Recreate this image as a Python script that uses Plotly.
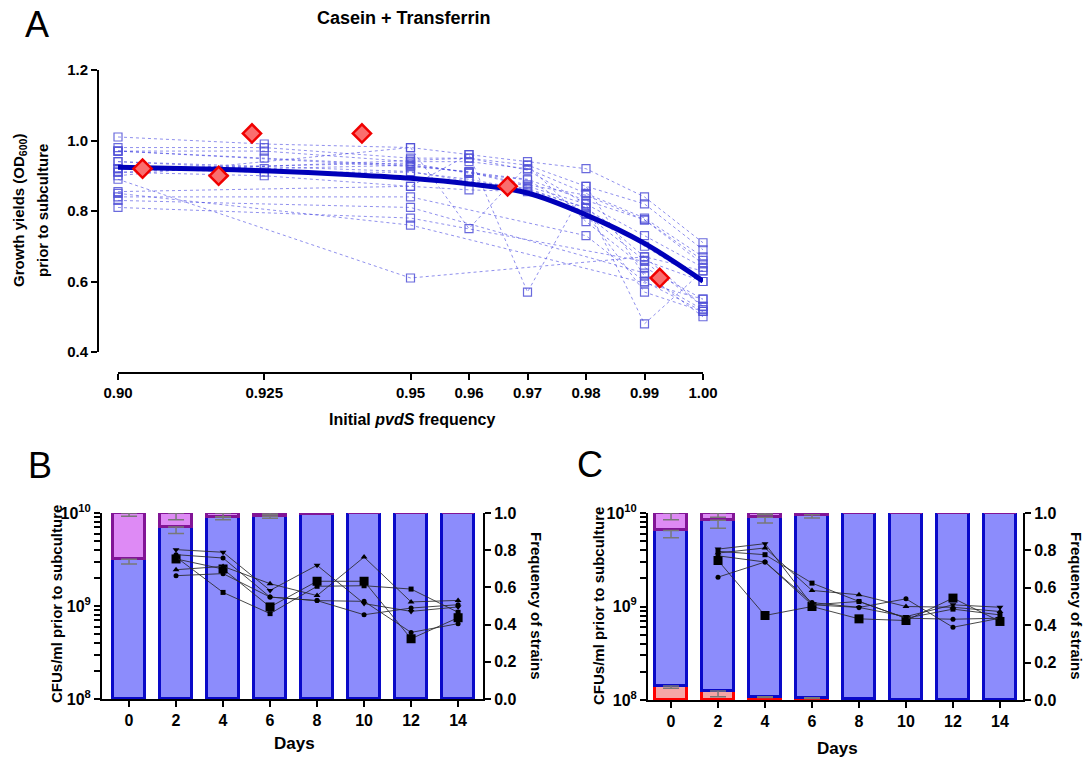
import plotly.graph_objects as go

W, H = 1086, 758
def fx(px): return px / W
def fy(py): return 1 - py / H

FONT = "Liberation Sans, Arial, sans-serif"

# ---------------- Panel A data ----------------
freq_ticks = [0.90, 0.925, 0.95, 0.96, 0.97, 0.98, 0.99, 1.00]
freq_tick_labels = ["0.90", "0.925", "0.95", "0.96", "0.97", "0.98", "0.99", "1.00"]
od_ticks = [0.4, 0.6, 0.8, 1.0, 1.2]

# each replicate: yield at the initial frequencies above (None = not sampled)
replicate_yields = [
    [1.01, 0.99, 0.98, 0.96, 0.94, 0.92, 0.84, 0.71],
    [0.98, 0.98, 0.95, 0.95, 0.93, 0.87, 0.82, 0.69],
    [0.97, 0.97, 0.94, 0.94, 0.92, 0.85, 0.78, 0.67],
    [0.97, 0.95, 0.93, 0.91, 0.89, 0.83, 0.775, 0.65],
    [0.94, 0.92, 0.93, 0.91, 0.87, 0.82, 0.73, 0.64],
    [0.92, 0.91, 0.91, 0.89, 0.86, 0.81, 0.67, 0.63],
    [0.91, 0.90, 0.87, 0.86, 0.855, 0.79, 0.66, 0.60],
    [0.90, None, 0.98, 0.75, 0.93, 0.77, 0.64, 0.55],
    [0.89, None, 0.61, None, None, None, 0.67, 0.53],
    [0.855, None, 0.87, 0.96, 0.57, 0.87, 0.615, 0.52],
    [0.84, None, 0.84, None, None, 0.73, 0.60, 0.515],
    [0.83, None, 0.81, None, None, None, 0.624, 0.50],
    [0.81, None, 0.78, None, None, None, 0.657, 0.529],
    [0.85, None, 0.76, None, None, None, 0.596, 0.55],
    [0.91, None, 0.945, 0.95, 0.916, 0.82, 0.48, 0.63],
    [0.97, None, 0.926, 0.912, 0.874, 0.845, 0.775, 0.66],
    [0.94, None, 0.912, 0.884, 0.864, 0.808, 0.70, 0.60],
    [0.92, None, 0.936, 0.907, 0.888, 0.793, 0.57, 0.515],
]

fit_x = [0.90, 0.915, 0.925, 0.94, 0.95, 0.96, 0.97, 0.98, 0.99, 1.00]
fit_y = [0.924, 0.919, 0.914, 0.903, 0.893, 0.877, 0.851, 0.789, 0.708, 0.601]

mean_x = [0.9042, 0.9172, 0.9229, 0.9417, 0.9666, 0.9926]
mean_y = [0.92, 0.90, 1.02, 1.02, 0.87, 0.61]

# ---------------- Panel B data ----------------
days = [0, 2, 4, 6, 8, 10, 12, 14]
b_blue = [0.751, 0.925, 0.978, 0.982, 0.997, 1.0, 1.0, 1.0]
b_blue_err = [0.025, 0.035, 0.014, 0.01, 0.0, 0.0, 0.0, 0.0]
b_pink_err = [0.018, 0.036, 0.02, 0.01, 0.0, 0.0, 0.0, 0.0]

line_days = [2, 4, 6, 8, 10, 12, 14]
b_lines = [
    ("square", 9, [0.753, 0.699, 0.495, 0.633, 0.633, 0.324, 0.437]),
    ("triangle-down", 6, [0.803, 0.789, 0.584, 0.719, 0.513, 0.471, 0.495]),
    ("circle", 5, [0.776, 0.758, 0.548, 0.529, 0.525, 0.358, 0.405]),
    ("square", 5, [0.763, 0.573, 0.459, 0.606, 0.609, 0.591, 0.466]),
    ("triangle-up", 6, [0.695, 0.713, 0.620, 0.556, 0.763, 0.522, 0.530]),
    ("circle", 5, [0.663, 0.674, 0.548, 0.529, 0.453, 0.489, 0.507]),
]

# ---------------- Panel C data ----------------
c_red = [0.075, 0.048, 0.018, 0.0125, 0.004, 0.0, 0.0, 0.0]
c_blue = [0.832, 0.913, 0.959, 0.9785, 0.996, 1.0, 1.0, 1.0]
c_red_err = [0.012, 0.03, 0.004, 0.004, 0.0, 0.0, 0.0, 0.0]
c_blue_err = [0.04, 0.043, 0.03, 0.018, 0.0, 0.0, 0.0, 0.0]
c_pink_err = [0.036, 0.023, 0.01, 0.0, 0.0, 0.0, 0.0, 0.0]

c_lines = [
    ("square", 9, [0.746, 0.452, 0.500, 0.434, 0.425, 0.545, 0.420]),
    ("triangle-down", 6, [0.807, 0.836, 0.509, 0.495, 0.446, 0.509, 0.496]),
    ("square", 5, [0.795, 0.777, 0.625, 0.527, 0.4375, 0.486, 0.455]),
    ("triangle-up", 6, [0.786, 0.813, 0.586, 0.5625, 0.500, 0.496, 0.473]),
    ("circle", 5, [0.771, 0.738, 0.521, 0.495, 0.541, 0.389, 0.4375]),
    ("circle", 5, [0.657, 0.738, 0.509, 0.527, 0.4375, 0.432, 0.4375]),
]

log_tickvals = [1e8, 1e9, 1e10]
log_ticktext = ["10<sup>8</sup>", "10<sup>9</sup>", "10<sup>10</sup>"]
log_minor = [m * 10 ** e for e in (8, 9) for m in range(2, 10)]
freq_axis_ticks = [0.0, 0.2, 0.4, 0.6, 0.8, 1.0]

BLUE_FILL = "rgb(140,140,252)"
BLUE_LINE = "rgb(10,10,200)"
PINK_FILL = "rgb(222,138,245)"
PINK_LINE = "rgb(130,20,150)"
RED_FILL = "rgb(246,165,165)"
RED_LINE = "rgb(255,0,0)"
ERR_COL = "rgb(120,120,120)"

fig = go.Figure()

# ---- Panel A traces ----
for reps in replicate_yields:
    fig.add_trace(go.Scatter(
        x=freq_ticks, y=reps, mode="lines+markers", connectgaps=True,
        line=dict(color="rgba(70,70,225,0.6)", width=1, dash="dot"),
        marker=dict(symbol="square-open", size=8, color="rgba(80,80,215,0.85)",
                    line=dict(width=1.2)),
        cliponaxis=False, showlegend=False, xaxis="x", yaxis="y"))

fig.add_trace(go.Scatter(
    x=fit_x, y=fit_y, mode="lines", line=dict(color="rgb(0,0,185)", width=5, shape="spline"),
    cliponaxis=False, showlegend=False, xaxis="x", yaxis="y"))

fig.add_trace(go.Scatter(
    x=mean_x, y=mean_y, mode="markers",
    marker=dict(symbol="diamond", size=14, color="rgb(250,110,110)",
                line=dict(color="rgb(240,0,0)", width=2.5)),
    cliponaxis=False, showlegend=False, xaxis="x", yaxis="y"))

# ---- helper for B and C ----
def add_err(xax, yax, tops, errs):
    xs = [d for d, e in zip(days, errs) if e > 0]
    ys = [t for t, e in zip(tops, errs) if e > 0]
    es = [e for e in errs if e > 0]
    fig.add_trace(go.Scatter(
        x=xs, y=ys, mode="markers", marker=dict(size=1, color="rgba(0,0,0,0)"),
        error_y=dict(type="data", symmetric=False, array=[0] * len(es), arrayminus=es,
                     color=ERR_COL, thickness=1.5, width=8),
        cliponaxis=False, showlegend=False, xaxis=xax, yaxis=yax, hoverinfo="skip"))

def add_lines(xax, yax, series):
    for sym, size, vals in series:
        fig.add_trace(go.Scatter(
            x=line_days, y=vals, mode="lines+markers",
            line=dict(color="rgba(40,40,40,0.85)", width=1),
            marker=dict(symbol=sym, size=size, color="black"),
            showlegend=False, xaxis=xax, yaxis=yax))

# ---- Panel B ----
fig.add_trace(go.Scatter(x=[None], y=[None], xaxis="x2", yaxis="y2", showlegend=False))
b_pink = [1 - b for b in b_blue]
fig.add_trace(go.Bar(x=days, y=b_blue, width=1.36, marker=dict(color=BLUE_FILL, line=dict(color=BLUE_LINE, width=3)),
                     showlegend=False, xaxis="x2", yaxis="y3"))
fig.add_trace(go.Bar(x=days, y=b_pink, width=1.36, marker=dict(color=PINK_FILL, line=dict(color=PINK_LINE, width=3)),
                     showlegend=False, xaxis="x2", yaxis="y3"))
add_err("x2", "y3", b_blue, b_blue_err)
add_err("x2", "y3", [1.0] * len(days), b_pink_err)
add_lines("x2", "y3", b_lines)

# ---- Panel C ----
fig.add_trace(go.Scatter(x=[None], y=[None], xaxis="x3", yaxis="y4", showlegend=False))
c_pink = [max(0.0, 1 - r - b) for r, b in zip(c_red, c_blue)]
fig.add_trace(go.Bar(x=days, y=c_red, width=1.4, marker=dict(color=RED_FILL, line=dict(color=RED_LINE, width=3)),
                     showlegend=False, xaxis="x3", yaxis="y5"))
fig.add_trace(go.Bar(x=days, y=c_blue, width=1.4, marker=dict(color=BLUE_FILL, line=dict(color=BLUE_LINE, width=3)),
                     showlegend=False, xaxis="x3", yaxis="y5"))
fig.add_trace(go.Bar(x=days, y=c_pink, width=1.4, marker=dict(color=PINK_FILL, line=dict(color=PINK_LINE, width=3)),
                     showlegend=False, xaxis="x3", yaxis="y5"))
c_blue_top = [r + b for r, b in zip(c_red, c_blue)]
add_err("x3", "y5", c_red, c_red_err)
add_err("x3", "y5", c_blue_top, c_blue_err)
add_err("x3", "y5", [1.0] * len(days), c_pink_err)
add_lines("x3", "y5", c_lines)

def tf(size):
    return dict(family=FONT, size=size, color="black", weight="bold")

axis_common = dict(showline=True, linecolor="black", linewidth=2, ticks="outside",
                   ticklen=6, tickwidth=2, tickcolor="black", showgrid=False, zeroline=False,
                   automargin=False)

log_all_vals = log_tickvals + log_minor
log_all_text = log_ticktext + [""] * len(log_minor)

fig.update_layout(
    width=W, height=H, margin=dict(l=0, r=0, t=0, b=0, pad=0, autoexpand=False),
    paper_bgcolor="white", plot_bgcolor="rgba(0,0,0,0)",
    barmode="stack", bargap=0, showlegend=False,
    font=dict(family=FONT, color="black"),
    xaxis=dict(domain=[fx(118), fx(703)], range=[0.90, 1.00], anchor="free", position=fy(373),
               tickvals=freq_ticks, ticktext=freq_tick_labels, tickfont=tf(15), **axis_common),
    yaxis=dict(domain=[fy(352), fy(70)], range=[0.4, 1.2], anchor="free", position=fx(98),
               tickvals=od_ticks, tickformat=".1f", tickfont=tf(15), **axis_common),
    xaxis2=dict(domain=[fx(102), fx(483)], range=[-1.15, 15.06], anchor="y2",
                tickvals=days, tickfont=tf(16), **axis_common),
    yaxis2=dict(domain=[fy(699), fy(513)], type="log", range=[8, 10], anchor="x2", side="left",
                tickvals=log_all_vals, ticktext=log_all_text, tickfont=tf(16), **axis_common),
    yaxis3=dict(overlaying="y2", range=[0, 1], anchor="x2", side="right",
                tickvals=freq_axis_ticks, tickformat=".1f", tickfont=tf(16), **axis_common),
    xaxis3=dict(domain=[fx(648), fx(1023)], range=[-0.98, 14.98], anchor="y4",
                tickvals=days, tickfont=tf(16), **axis_common),
    yaxis4=dict(domain=[fy(700), fy(513)], type="log", range=[8, 10], anchor="x3", side="left",
                tickvals=log_all_vals, ticktext=log_all_text, tickfont=tf(16), **axis_common),
    yaxis5=dict(overlaying="y4", range=[0, 1], anchor="x3", side="right",
                tickvals=freq_axis_ticks, tickformat=".1f", tickfont=tf(16), **axis_common),
)

def ann(text, x, y, size, angle=0, bold=True):
    fig.add_annotation(text=text, x=fx(x), y=fy(y), xref="paper", yref="paper",
                       showarrow=False, textangle=angle, xanchor="center", yanchor="middle",
                       font=dict(family=FONT, size=size, color="black", weight="bold" if bold else "normal"))

ann("A", 37, 25, 36, bold=False)
ann("B", 40, 465, 36, bold=False)
ann("C", 590, 464, 36, bold=False)
ann("Casein + Transferrin", 404, 18, 18)
ann("Growth yields (OD<sub>600</sub>)", 19, 211, 15, angle=-90)
ann("prior to subculture", 42, 211, 15, angle=-90)
ann("Initial <i>pvdS</i> frequency", 412, 419, 16)

ann("CFUs/ml prior to subculture", 56, 604, 15, angle=-90)
ann("Frequency of strains", 537, 606, 15, angle=90)
ann("Days", 295, 743, 17)
ann("CFUs/ml prior to subculture", 598, 606, 15, angle=-90)
ann("Frequency of strains", 1077, 606, 15, angle=90)
ann("Days", 837, 748, 17)

fig.write_html("out.html", config={"displayModeBar": False},
               post_script="document.body.style.margin='0px';document.body.style.padding='0px';document.body.style.overflow='hidden';")
